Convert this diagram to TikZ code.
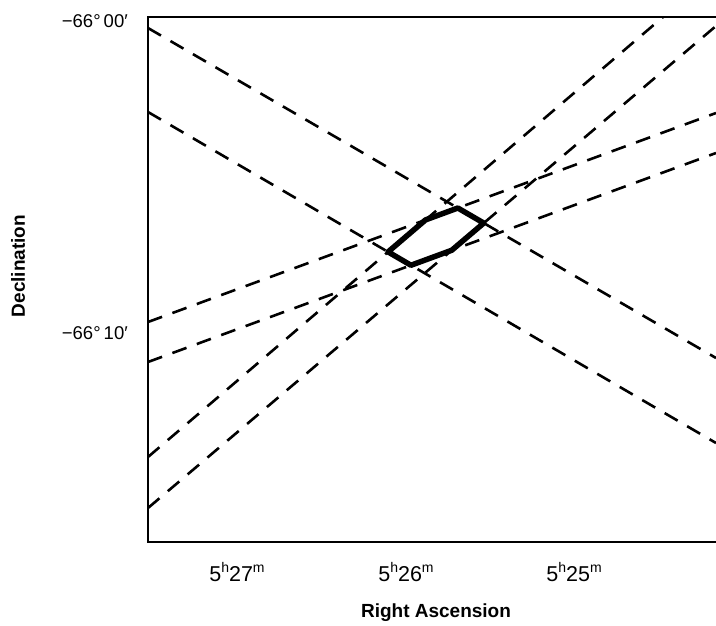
\documentclass[tikz,border=0pt]{standalone}
\usepackage{fontspec}
\setmainfont{Liberation Sans}
\usetikzlibrary{intersections}
\begin{document}
\begin{tikzpicture}[x=1pt,y=-1pt,
  frame/.style={line width=1.8pt},
  sightline/.style={line width=2.6pt,dash pattern=on 15pt off 11pt},
  errbox/.style={line width=5.5pt,line join=round},
  declabel/.style={anchor=east,inner sep=0pt,font=\fontsize{18.5}{18.5}\selectfont},
  ralabel/.style={inner sep=0pt,font=\fontsize{21.5}{21.5}\selectfont},
  supsc/.style={},
  axtitle/.style={inner sep=0pt,font=\fontsize{19}{19}\selectfont\bfseries}]
\newcommand{\rasup}[1]{\raisebox{0.42em}{\fontsize{14}{14}\selectfont #1}}
\useasboundingbox (0,0) rectangle (716,625);
% frame
\coordinate (tl) at (148,17);
\coordinate (tr) at (716,17);
\coordinate (bl) at (148,542);
\coordinate (br) at (716,542);
\draw[frame] (tr) -- (tl) -- (bl) -- (br);
% sight lines
\coordinate (a1) at (148,28);  \coordinate (b1) at (716,358);
\coordinate (a2) at (148,112); \coordinate (b2) at (716,443);
\coordinate (a3) at (148,322); \coordinate (b3) at (716,113);
\coordinate (a4) at (148,362); \coordinate (b4) at (716,153);
\coordinate (a5) at (148,457); \coordinate (b5) at (663,17);
\coordinate (a6) at (148,508); \coordinate (b6) at (716,26);
\draw[sightline,name path=l1] (a1) -- (b1);
\draw[sightline,name path=l2] (a2) -- (b2);
\draw[sightline,name path=l3] (a3) -- (b3);
\draw[sightline,name path=l4] (a4) -- (b4);
\draw[sightline,name path=l5] (a5) -- (b5);
\draw[sightline,name path=l6] (a6) -- (b6);
% error box = intersection of the three bands
\path[name intersections={of=l2 and l5,by=p1}];
\path[name intersections={of=l2 and l4,by=p2}];
\path[name intersections={of=l4 and l6,by=p3}];
\path[name intersections={of=l6 and l1,by=p4}];
\path[name intersections={of=l1 and l3,by=p5}];
\path[name intersections={of=l3 and l5,by=p6}];
\draw[errbox] (p1) -- (p2) -- (p3) -- (p4) -- (p5) -- (p6) -- cycle;
% labels
\node[declabel] (d0) at (128,21) {−66°\,00′};
\node[declabel] (d1) at (128,333) {−66°\,10′};
\node[ralabel] (r27) at (237,572) {5\rasup{h}27\rasup{m}};
\node[ralabel] (r26) at (406,572) {5\rasup{h}26\rasup{m}};
\node[ralabel] (r25) at (574,572) {5\rasup{h}25\rasup{m}};
\node[axtitle] (xt) at (436,613) {Right Ascension};
\node[axtitle,rotate=90] (yt) at (18,266) {Declination};
\end{tikzpicture}
\end{document}
